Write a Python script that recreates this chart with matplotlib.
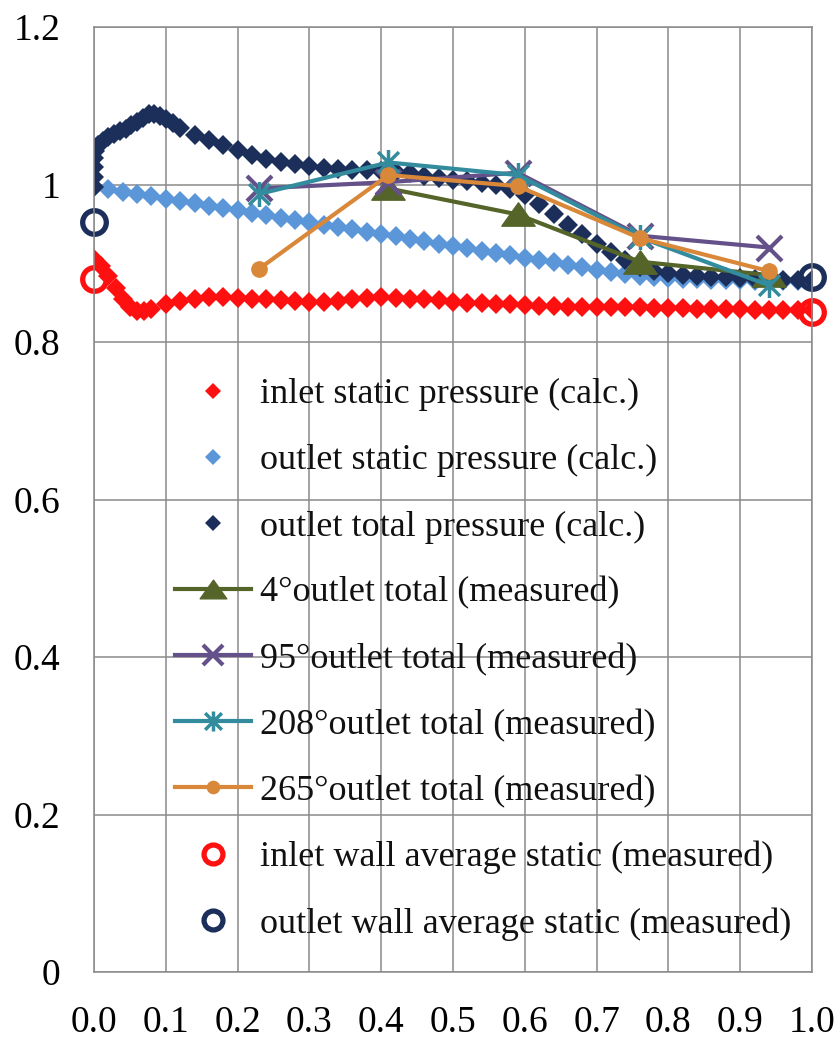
import numpy as np
import matplotlib
matplotlib.use("Agg")
import matplotlib.pyplot as plt
from matplotlib.path import Path

plt.rcParams['font.family'] = ['Liberation Serif', 'DejaVu Serif']

# ---------------- data ----------------
inlet_x = [0.000, 0.010, 0.020, 0.030, 0.040, 0.050, 0.060, 0.070, 0.080, 0.100,
           0.120, 0.140, 0.160, 0.180, 0.200, 0.220, 0.240, 0.260, 0.280, 0.300,
           0.320, 0.340, 0.360, 0.380, 0.400, 0.420, 0.440, 0.460, 0.480, 0.500,
           0.520, 0.540, 0.560, 0.580, 0.600, 0.620, 0.640, 0.660, 0.680, 0.700,
           0.720, 0.740, 0.760, 0.780, 0.800, 0.820, 0.840, 0.860, 0.880, 0.900,
           0.920, 0.940, 0.960, 0.980, 1.000]
inlet_y = [0.905, 0.897, 0.884, 0.869, 0.855, 0.845, 0.839, 0.839, 0.842, 0.848,
           0.852, 0.855, 0.857, 0.857, 0.856, 0.855, 0.854, 0.853, 0.852, 0.851,
           0.851, 0.852, 0.854, 0.856, 0.857, 0.856, 0.855, 0.854, 0.853, 0.851,
           0.850, 0.849, 0.848, 0.848, 0.847, 0.846, 0.846, 0.845, 0.845, 0.845,
           0.844, 0.844, 0.844, 0.843, 0.843, 0.843, 0.842, 0.842, 0.842, 0.842,
           0.841, 0.841, 0.841, 0.841, 0.841]

ostat_x = [0.00, 0.02, 0.04, 0.06, 0.08, 0.10, 0.12, 0.14, 0.16, 0.18,
           0.20, 0.22, 0.24, 0.26, 0.28, 0.30, 0.32, 0.34, 0.36, 0.38,
           0.40, 0.42, 0.44, 0.46, 0.48, 0.50, 0.52, 0.54, 0.56, 0.58,
           0.60, 0.62, 0.64, 0.66, 0.68, 0.70, 0.72, 0.74, 0.76, 0.78,
           0.80, 0.82, 0.84, 0.86, 0.88, 0.90, 0.92, 0.94, 0.96, 0.98, 1.00]
ostat_y = [0.997, 0.994, 0.991, 0.988, 0.985, 0.982, 0.979, 0.976, 0.973, 0.970,
           0.967, 0.964, 0.961, 0.958, 0.955, 0.952, 0.949, 0.946, 0.943, 0.940,
           0.937, 0.934, 0.931, 0.928, 0.925, 0.922, 0.919, 0.916, 0.913, 0.910,
           0.907, 0.904, 0.901, 0.898, 0.895, 0.892, 0.889, 0.886, 0.884, 0.882,
           0.881, 0.880, 0.880, 0.879, 0.879, 0.879, 0.878, 0.878, 0.878, 0.878, 0.878]

otot_x = [0.000, 0.000, 0.000, 0.000, 0.002, 0.006, 0.012, 0.020, 0.028, 0.036,
          0.044, 0.052, 0.060, 0.068, 0.076, 0.084, 0.092, 0.100, 0.110, 0.120,
          0.14, 0.16, 0.18, 0.20, 0.22, 0.24, 0.26, 0.28, 0.30, 0.32,
          0.34, 0.36, 0.38, 0.40, 0.42, 0.44, 0.46, 0.48, 0.50, 0.52,
          0.54, 0.56, 0.58, 0.60, 0.62, 0.64, 0.66, 0.68, 0.70, 0.72,
          0.74, 0.76, 0.78, 0.80, 0.82, 0.84, 0.86, 0.88, 0.90, 0.92,
          0.94, 0.96, 0.98, 1.00]
otot_y = [0.997, 1.010, 1.022, 1.034, 1.042, 1.050, 1.055, 1.060, 1.064, 1.068,
          1.071, 1.075, 1.079, 1.084, 1.089, 1.090, 1.087, 1.083, 1.078, 1.072,
          1.063, 1.056, 1.050, 1.044, 1.038, 1.033, 1.029, 1.026, 1.023, 1.021,
          1.020, 1.019, 1.018, 1.017, 1.016, 1.014, 1.011, 1.008, 1.006, 1.004,
          1.002, 0.999, 0.994, 0.987, 0.975, 0.962, 0.949, 0.937, 0.925, 0.914,
          0.904, 0.895, 0.890, 0.887, 0.885, 0.884, 0.883, 0.882, 0.881, 0.880,
          0.880, 0.879, 0.879, 0.879]

meas_x = [0.23, 0.41, 0.59, 0.76, 0.94]
deg4 = [np.nan, 0.995, 0.962, 0.902, 0.885]
deg95 = [0.995, 1.003, 1.015, 0.935, 0.920]
deg208 = [0.988, 1.028, 1.012, 0.933, 0.872]
deg265 = [0.893, 1.012, 0.998, 0.932, 0.890]

wall_x = [0.0, 1.0]
inlet_wall = [0.880, 0.838]
outlet_wall = [0.952, 0.882]

labels = ["inlet static pressure (calc.)",
          "outlet static pressure (calc.)",
          "outlet total pressure (calc.)",
          "4°outlet total (measured)",
          "95°outlet total (measured)",
          "208°outlet total (measured)",
          "265°outlet total (measured)",
          "inlet wall average static (measured)",
          "outlet wall average static (measured)"]

x_ticks = [0.0, 0.1, 0.2, 0.3, 0.4, 0.5, 0.6, 0.7, 0.8, 0.9, 1.0]
x_ticklabels = ["0.0", "0.1", "0.2", "0.3", "0.4", "0.5", "0.6", "0.7", "0.8", "0.9", "1.0"]
y_ticks = [0.0, 0.2, 0.4, 0.6, 0.8, 1.0, 1.2]
y_ticklabels = ["0", "0.2", "0.4", "0.6", "0.8", "1", "1.2"]

# ---------------- style ----------------
RED = "#FF1010"
LBLUE = "#5B97D8"
NAVY = "#1B2F5A"
OLIVE = "#55652A"
PURPLE = "#64518A"
TEAL = "#338C9E"
ORANGE = "#D9883A"
GRID = "#8A8A8A"

tri = Path([(0, 0.7), (-1, -0.7), (1, -0.7), (0, 0.7)],
           [Path.MOVETO, Path.LINETO, Path.LINETO, Path.CLOSEPOLY])
ast = Path([(-1, -1), (1, 1), (-1, 1), (1, -1), (0, -1.2), (0, 1.2)],
           [Path.MOVETO, Path.LINETO, Path.MOVETO, Path.LINETO, Path.MOVETO, Path.LINETO])

fig = plt.figure(figsize=(8.39, 10.48), dpi=100)
ax = fig.add_axes([94 / 839, 76 / 1048, 718 / 839, 945 / 1048])

ax.set_xlim(0, 1.0)
ax.set_ylim(0, 1.2)
ax.set_xticks(x_ticks)
ax.set_xticklabels(x_ticklabels)
ax.set_yticks(y_ticks)
ax.set_yticklabels(y_ticklabels)
ax.tick_params(axis='both', length=0, labelsize=27)
ax.tick_params(axis='x', pad=24)
ax.tick_params(axis='y', pad=24)
ax.grid(True, color=GRID, linewidth=1.1)
ax.set_axisbelow(True)
for s in ax.spines.values():
    s.set_color(GRID)
    s.set_linewidth(1.1)

h = []
h += ax.plot(inlet_x, inlet_y, linestyle='none', marker='D', ms=10.5, mew=0, color=RED, label=labels[0])
h += ax.plot(ostat_x, ostat_y, linestyle='none', marker='D', ms=10.5, mew=0, color=LBLUE, label=labels[1])
h += ax.plot(otot_x, otot_y, linestyle='none', marker='D', ms=10.5, mew=0, color=NAVY, label=labels[2])
h += ax.plot(meas_x, deg4, color=OLIVE, lw=3, marker=tri, ms=24, label=labels[3])
h += ax.plot(meas_x, deg95, color=PURPLE, lw=3, marker='x', ms=18, mew=3, label=labels[4])
h += ax.plot(meas_x, deg208, color=TEAL, lw=3, marker=ast, ms=18, mew=2.5, label=labels[5])
h += ax.plot(meas_x, deg265, color=ORANGE, lw=3, marker='o', ms=11, label=labels[6])
h += ax.plot(wall_x, inlet_wall, linestyle='none', marker='o', ms=17, mfc='none',
             mec=RED, mew=3.8, clip_on=False, label=labels[7])
h += ax.plot(wall_x, outlet_wall, linestyle='none', marker='o', ms=17, mfc='none',
             mec=NAVY, mew=3.8, clip_on=False, label=labels[8])

leg = fig.legend(handles=h, labels=labels, loc='upper left',
                 bbox_to_anchor=(175 / 839, (1048 - 378) / 1048),
                 frameon=False, fontsize=26, borderpad=0, borderaxespad=0,
                 handlelength=2.1, handletextpad=0.25, labelspacing=0.91,
                 numpoints=1, markerscale=0.8)
for t in leg.get_texts():
    t.set_color('#111111')

fig.savefig("out.png", dpi=100, facecolor='white')
